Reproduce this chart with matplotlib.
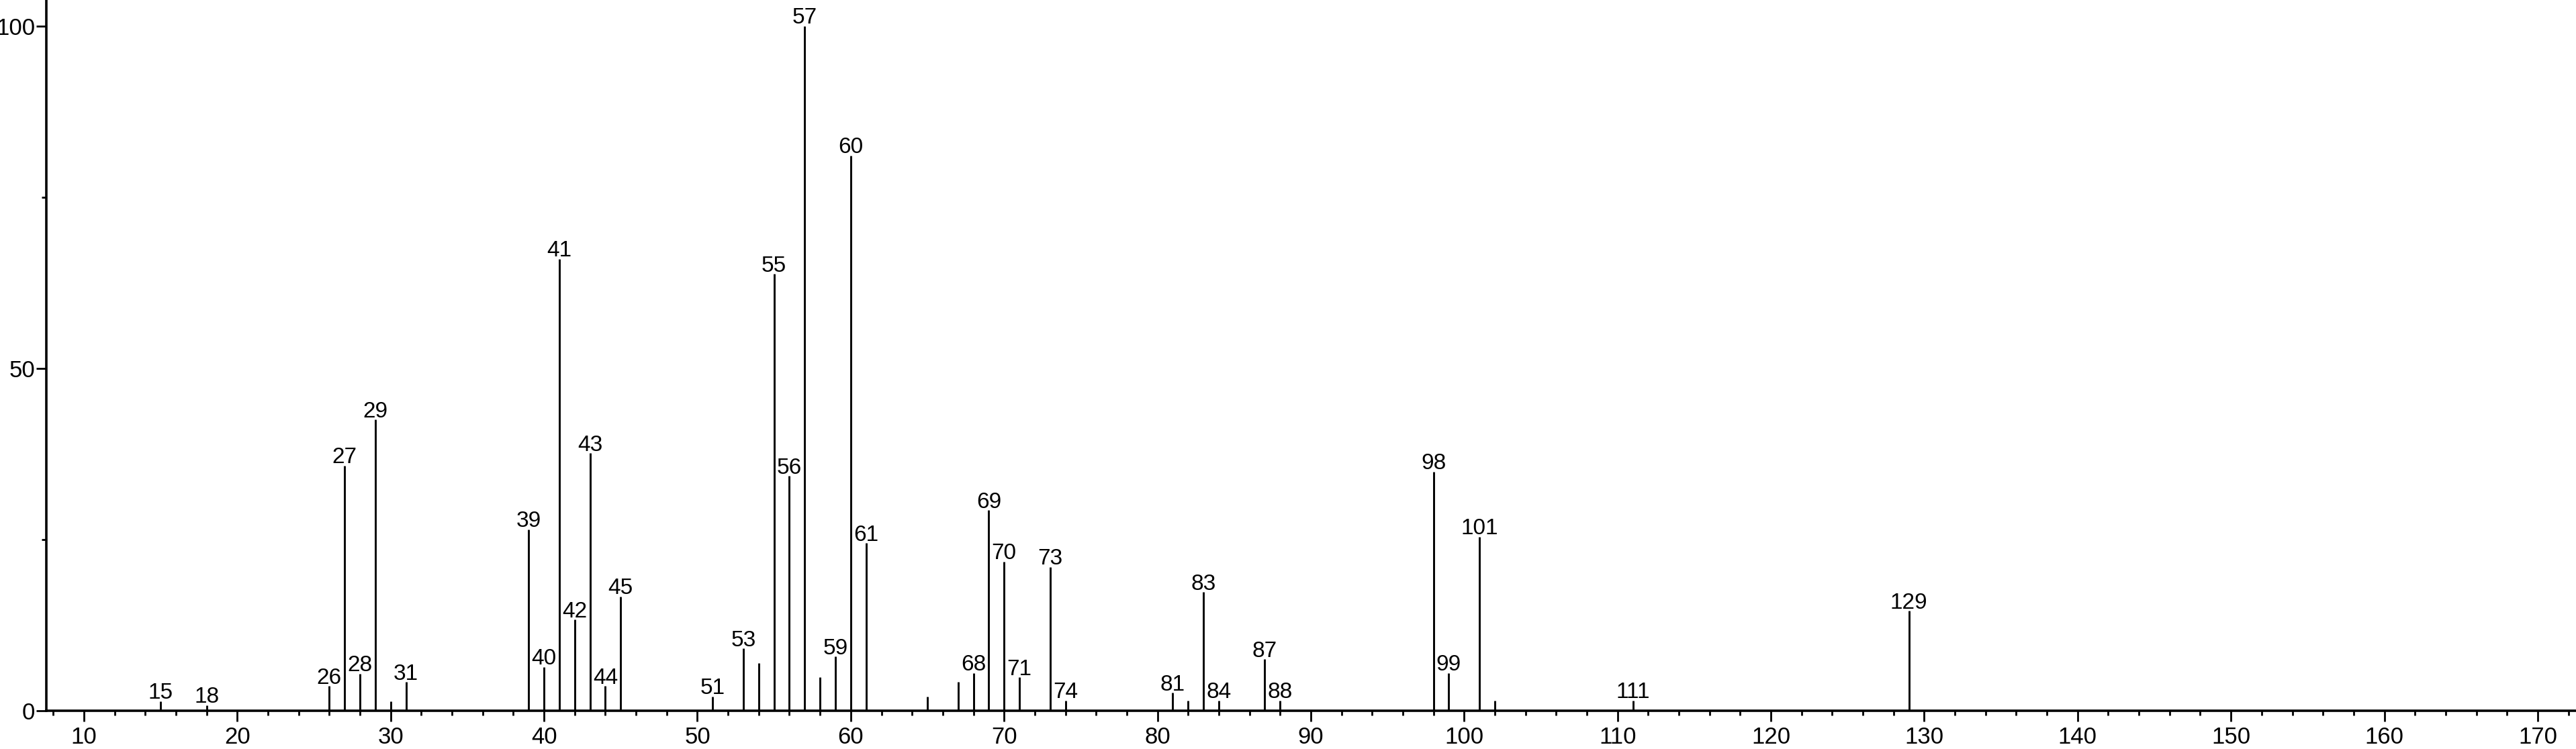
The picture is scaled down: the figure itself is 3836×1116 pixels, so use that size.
import numpy as np
import matplotlib
matplotlib.use("Agg")
import matplotlib.pyplot as plt
from matplotlib.ticker import MultipleLocator

plt.rcParams['font.family'] = ['Liberation Sans', 'DejaVu Sans']

# m/z and relative intensity
mz = [15, 18, 26, 27, 28, 29, 30, 31, 39, 40, 41, 42, 43, 44, 45,
      51, 53, 54, 55, 56, 57, 58, 59, 60, 61, 65, 67, 68, 69, 70,
      71, 73, 74, 81, 82, 83, 84, 87, 88, 98, 99, 101, 102, 111, 129]
intensity = [1.4, 0.8, 3.6, 35.8, 5.4, 42.5, 1.4, 4.2, 26.5, 6.4, 66.0, 13.3, 37.6, 3.6, 16.7,
             2.1, 9.1, 7.0, 63.8, 34.3, 100.0, 4.9, 7.9, 81.1, 24.5, 2.1, 4.2, 5.5, 29.3, 21.8,
             4.9, 21.0, 1.5, 2.6, 1.5, 17.3, 1.5, 7.5, 1.5, 34.9, 5.5, 25.4, 1.5, 1.5, 14.6]
# peaks without a number above them
unlabeled = [30, 54, 58, 65, 67, 82, 102]

x_ticks = np.arange(10, 171, 10)
y_ticks = [0, 50, 100]

fig = plt.figure(figsize=(38.36, 11.16), dpi=100)
ax = fig.add_axes([0.018, 0.0511, 0.982, 0.9489])

ax.vlines(mz, 0, intensity, color="black", linewidth=2.1)
for m, h in zip(mz, intensity):
    if m in unlabeled:
        continue
    ax.annotate(str(m), (m, h), xytext=(0, 2.5), textcoords="offset points",
                ha="center", va="baseline", fontsize=24)

ax.set_xlim(7.55, 172.5)
ax.set_ylim(0, 103.8)
ax.set_xticks(x_ticks)
ax.xaxis.set_minor_locator(MultipleLocator(2))
ax.set_yticks(y_ticks)
ax.yaxis.set_minor_locator(MultipleLocator(25))

for side in ["top", "right"]:
    ax.spines[side].set_visible(False)
for side in ["left", "bottom"]:
    ax.spines[side].set_linewidth(2.6)

ax.tick_params(axis="x", which="major", length=11.5, width=2.0, labelsize=25, pad=5)
ax.tick_params(axis="x", which="minor", length=5, width=2.0)
ax.tick_params(axis="y", which="major", length=11, width=2.0, labelsize=25, pad=1)
ax.tick_params(axis="y", which="minor", length=5, width=2.0)

fig.savefig("out.png", dpi=100)
